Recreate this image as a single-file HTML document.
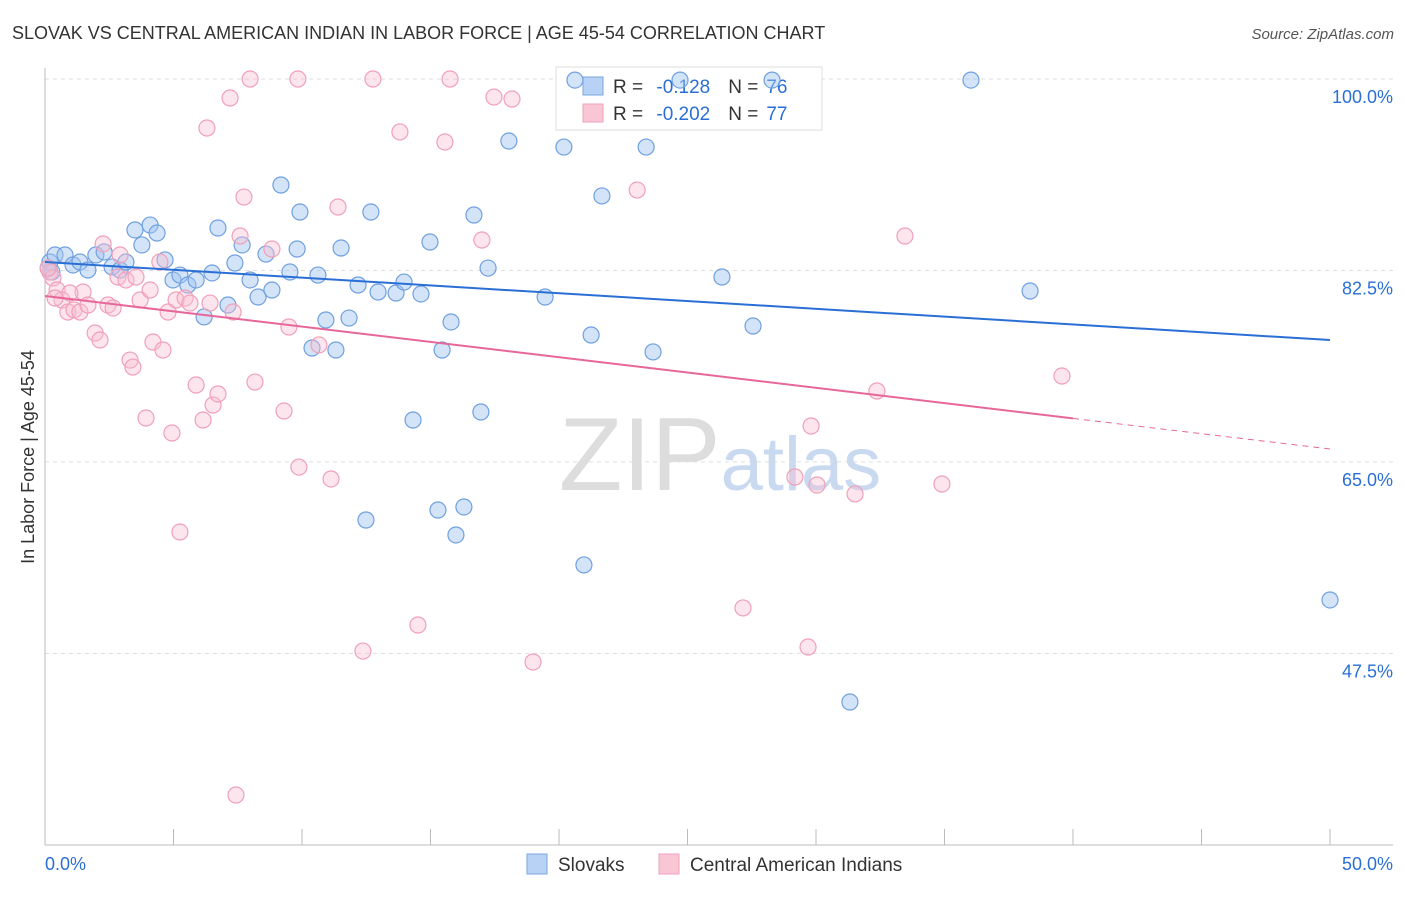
<!DOCTYPE html>
<html><head><meta charset="utf-8"><style>
body{margin:0;background:#fff;font-family:"Liberation Sans",sans-serif}
svg text{font-family:"Liberation Sans",sans-serif}
</style></head><body>
<svg id="chart" width="1406" height="892" viewBox="0 0 1406 892">
<text x="12" y="39" font-size="18" fill="#333">SLOVAK VS CENTRAL AMERICAN INDIAN IN LABOR FORCE | AGE 45-54 CORRELATION CHART</text>
<text x="1394" y="39" font-size="15" fill="#555" text-anchor="end" font-style="italic">Source: ZipAtlas.com</text>
<text x="720" y="490" font-size="104" text-anchor="middle" fill="#ddd" font-family="Liberation Serif">ZIP<tspan fill="#c9d9f0" font-family="Liberation Sans" font-size="76">atlas</tspan></text>
<g id="grid"></g><g id="axes"></g>
<g>
<rect x="556" y="67" width="266" height="63" fill="#fff" stroke="#ddd"/>
<rect x="583" y="77" width="20" height="18" fill="#b8d2f5" stroke="#7aa7e0"/>
<text x="613" y="93" font-size="19" fill="#333">R = <tspan fill="#2a6fd6" dx="8">-0.128</tspan><tspan dx="18" fill="#333">N =</tspan><tspan dx="8" fill="#2a6fd6">76</tspan></text>
<rect x="583" y="104" width="20" height="18" fill="#f9c6d6" stroke="#f0a0b8"/>
<text x="613" y="120" font-size="19" fill="#333">R = <tspan fill="#2a6fd6" dx="8">-0.202</tspan><tspan dx="18" fill="#333">N =</tspan><tspan dx="8" fill="#2a6fd6">77</tspan></text>
</g>
<g id="pts"></g><g id="trend"></g>
<text transform="translate(34,457) rotate(-90)" font-size="18" fill="#333" text-anchor="middle">In Labor Force | Age 45-54</text>
<g>
<rect x="527" y="854" width="20" height="20" fill="#b8d2f5" stroke="#7aa7e0"/>
<text x="558" y="871" font-size="19" fill="#333">Slovaks</text>
<rect x="659" y="854" width="20" height="20" fill="#f9c6d6" stroke="#f0a0b8"/>
<text x="690" y="871" font-size="19" fill="#333">Central American Indians</text>
</g>
</svg>
<script>
const blueX=[0.19,0.39,0.27,0.78,1.09,1.36,1.67,1.98,2.30,2.61,2.92,3.15,3.50,3.77,4.09,4.36,4.67,4.98,5.25,5.56,5.88,6.19,6.50,6.73,7.12,7.39,7.67,7.98,8.29,8.60,8.83,9.18,9.53,9.81,9.92,10.39,10.62,10.93,11.32,11.52,11.83,12.18,12.49,12.68,12.96,13.66,13.97,14.32,14.63,14.98,15.29,15.45,15.80,15.99,16.30,16.69,16.96,17.24,18.05,19.46,20.19,20.62,20.97,21.25,21.67,23.39,23.66,24.71,26.34,27.55,28.29,31.32,36.03,38.33,50.0,0.12];
const blueY=[83.27,83.91,82.36,83.91,83.0,83.27,82.54,83.91,84.19,82.82,82.54,83.27,86.2,84.83,86.65,85.92,83.46,81.63,82.08,81.17,81.63,78.25,82.27,86.38,79.34,83.18,84.83,81.63,80.07,84.0,80.71,90.31,82.36,84.46,87.84,75.41,82.08,77.97,75.23,84.55,78.15,81.17,59.69,87.84,80.53,80.44,81.44,68.83,80.35,85.1,60.6,75.23,77.79,58.32,60.88,87.57,69.56,82.72,94.33,80.07,93.78,99.9,55.58,76.6,89.31,93.78,75.05,99.9,81.9,77.42,99.9,43.05,99.9,80.62,52.38,82.72];
const pinkX=[0.19,0.31,0.47,0.66,0.89,1.13,1.36,1.48,1.67,1.95,2.14,2.26,2.45,2.65,2.84,2.92,3.15,3.31,3.42,3.54,3.70,3.93,4.09,4.20,4.47,4.59,4.79,4.94,5.10,5.25,5.45,5.64,5.88,6.15,6.30,6.42,6.54,6.73,7.20,7.32,7.43,7.59,7.74,7.98,8.17,8.83,9.30,9.49,9.84,9.88,10.66,11.13,11.40,12.37,12.76,13.81,14.51,15.56,15.76,17.0,17.47,18.17,18.99,23.04,27.16,29.18,29.69,29.81,30.04,31.52,32.37,33.46,34.90,39.57,0.39,0.12,0.97];
const pinkY=[82.36,81.81,80.71,79.8,78.7,78.89,78.7,80.53,79.34,76.78,76.14,84.92,79.34,79.07,81.9,83.91,81.63,74.31,73.67,81.9,79.8,69.01,80.71,75.96,83.27,75.23,78.7,67.64,79.8,58.59,79.98,79.52,72.03,68.83,95.52,79.52,70.2,71.21,98.26,78.7,34.55,85.65,89.21,100,72.3,84.46,69.65,77.33,100,64.53,75.69,63.44,88.3,47.71,100,95.16,50.09,94.24,100,85.28,98.35,98.17,46.71,89.85,51.65,63.62,48.08,68.28,62.89,62.07,71.48,85.65,62.98,72.85,79.98,82.72,80.44];
const yTicks=[100,82.5,65,47.5];
const yTickLabels=["100.0%","82.5%","65.0%","47.5%"];
const xTicks=[0,5,10,15,20,25,30,35,40,45,50];
const blueTrend=[83.27,76.14];
const pinkTrend=[80.16,66.18];
const pinkSolidEnd=40;
const NS="http://www.w3.org/2000/svg";
const sx=v=>45+v*25.7, sy=v=>79+(100-v)*10.94;
function mk(tag,attrs,parent){const e=document.createElementNS(NS,tag);for(const k in attrs)e.setAttribute(k,attrs[k]);document.getElementById(parent).appendChild(e);return e;}
yTicks.forEach((t,i)=>{
 const l=mk('line',{x1:45,x2:1393,y1:sy(t),y2:sy(t),stroke:'#ddd','stroke-dasharray':'4,4'},'grid');
 
 
 const tx=mk('text',{x:1393,y:sy(t)+24,'font-size':18,fill:'#2a6fd6','text-anchor':'end'},'grid');
 tx.textContent=yTickLabels[i];
 
 
});
const ax=mk('line',{x1:45,x2:45,y1:68,y2:845,stroke:'#bbb'},'axes');


const bx=mk('line',{x1:45,x2:1393,y1:845,y2:845,stroke:'#bbb'},'axes');


xTicks.forEach(t=>{
 const l=mk('line',{x1:sx(t),x2:sx(t),y1:829,y2:845,stroke:'#bbb'},'axes');
 
 
});
const xl0=mk('text',{x:45,y:870,'font-size':18,fill:'#2a6fd6'},'axes');xl0.textContent='0.0%';


const xl1=mk('text',{x:1393,y:870,'font-size':18,fill:'#2a6fd6','text-anchor':'end'},'axes');xl1.textContent='50.0%';


function pts(X,Y,fill,stroke,name){X.forEach((x,i)=>{
 const c=mk('circle',{cx:sx(x),cy:sy(Y[i]),r:8,fill:fill,stroke:stroke,'stroke-width':1.2},'pts');
 
 
});}
pts(blueX,blueY,'rgba(160,195,240,0.45)','#6fa0e0','slovak-point');
pts(pinkX,pinkY,'rgba(248,190,210,0.4)','#f0a0b8','central-american-indian-point');
const bl=mk('line',{x1:sx(0),y1:sy(blueTrend[0]),x2:sx(50),y2:sy(blueTrend[1]),stroke:'#2a6fd6','stroke-width':2},'trend');


const pm=pinkTrend[0]+(pinkTrend[1]-pinkTrend[0])*pinkSolidEnd/50;
const pl=mk('line',{x1:sx(0),y1:sy(pinkTrend[0]),x2:sx(pinkSolidEnd),y2:sy(pm),stroke:'#e8679a','stroke-width':2},'trend');


const pd=mk('line',{x1:sx(pinkSolidEnd),y1:sy(pm),x2:sx(50),y2:sy(pinkTrend[1]),stroke:'#e8679a','stroke-width':1,'stroke-dasharray':'6,5'},'trend');


</script>
</body></html>
